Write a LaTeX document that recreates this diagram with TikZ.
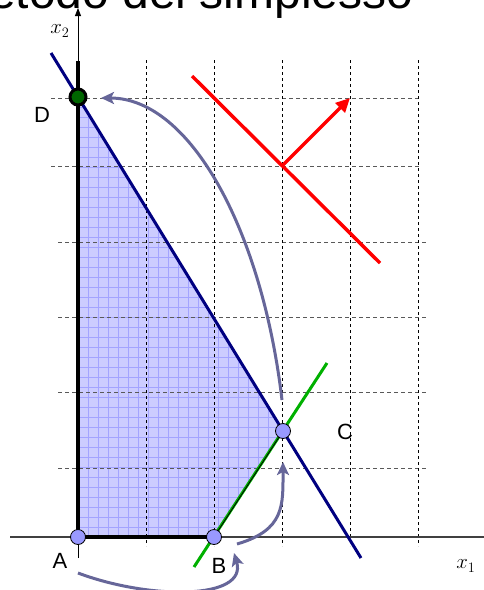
\documentclass[tikz,border=0pt]{standalone}
\usepackage{fontspec}
\setmainfont{Liberation Sans}
\usetikzlibrary{arrows.meta}
\definecolor{regionfill}{HTML}{CCCCFF}
\definecolor{regiongrid}{HTML}{A3A3FF}
\definecolor{vertexfill}{HTML}{9999FF}
\definecolor{optcolor}{HTML}{006600}
\definecolor{pathcolor}{HTML}{666699}
\definecolor{firstbound}{HTML}{000080}
\definecolor{secondbound}{HTML}{00B000}
\tikzset{
  spx axis/.style={draw=black!75,line width=1.2pt},
  spx hguide/.style={black!65,line width=1pt,dash pattern=on 4pt off 3pt},
  spx vguide/.style={black,line width=.9pt,dash pattern=on 3pt off 3pt},
  spx edge/.style={black,line width=3.5pt},
  spx vertex/.style={circle,draw=black,line width=.8pt,fill=vertexfill,minimum size=15pt,inner sep=0pt},
  spx label/.style={font=\fontsize{22}{22}\selectfont},
  spx var/.style={font=\fontsize{22}{22}\selectfont},
  spx move/.style={pathcolor,line width=3pt,-{Stealth[length=13pt,width=12pt,inset=3pt]}},
  spx objective/.style={red,line width=3.5pt}
}

\begin{document}
\begin{tikzpicture}[x=1pt,y=-1pt]
  \path[use as bounding box,clip] (0,0) rectangle (484,590);
  \node[anchor=base east,font=\fontsize{48}{48}\selectfont] (title) at (417,8) {Metodo del simplesso};
  % feasible region
  \begin{scope}
    \clip (78,537)--(214,537)--(283,431)--(78,97)--cycle;
    \fill[regionfill] (70,90) rectangle (290,540);
    \foreach \x in {88,98,...,288}{\draw[regiongrid,line width=.7pt] (\x,90)--(\x,540);}
    \foreach \y in {107,117,...,537}{\draw[regiongrid,line width=.7pt] (70,\y)--(290,\y);}
  \end{scope}
  % guides
  \foreach \y in {98,166}{\draw[spx hguide] (51,\y)--(419,\y);}
  \foreach \y in {242,317,392,468}{\draw[spx hguide] (58,\y)--(427,\y);}
  \foreach \x in {146,214,282,350,418}{\draw[spx vguide] (\x,60)--(\x,546);}
  % axes
  \draw[spx axis] (10,537)--(484,537);
  \draw[black,line width=.9pt,-{Triangle[length=8pt,width=6pt]}] (78,558)--(78,8);
  \node[spx var] (xone) at (466,566) {$x_1$};
  \node[spx var] (xtwo) at (60,31) {$x_2$};
  % constraints and objective
  \draw[firstbound,line width=3pt] (51,53)--(361,558);
  \draw[secondbound,line width=3pt] (194,567)--(327,363);
  \draw[black,line width=.8pt] (214,537)--(283,431);
  \draw[spx edge] (78,61)--(78,537)--(214,537);
  \draw[spx objective] (192,76)--(380,263);
  \coordinate (grad) at (282,166);
  \coordinate (gradtip) at (350,98);
  \draw[spx objective,-{Triangle[length=14pt,width=13pt]}] (grad)--(gradtip);
  % vertices
  \node[spx vertex] (A) at (78,537) {};
  \node[spx vertex] (B) at (214,537) {};
  \node[spx vertex] (C) at (283,431) {};
  \node[spx vertex,fill=optcolor,line width=3pt,minimum size=16pt] (D) at (78,97) {};
  \node[spx label] (Alab) at (60,561) {A};
  \node[spx label] (Blab) at (219,566) {B};
  \node[spx label] (Clab) at (345,432) {C};
  \node[spx label] (Dlab) at (42,115) {D};
  % moves of the method
  \coordinate (ABs) at (78,573);
  \coordinate (ABe) at (234,553);
  \coordinate (BCs) at (237,544);
  \coordinate (BCe) at (283,462);
  \coordinate (CDs) at (282,400);
  \coordinate (CDe) at (101,98);
  \draw[spx move] (ABs) .. controls (150,600) and (248,600) .. (ABe);
  \draw[spx move] (BCs) .. controls (285,530) and (283,505) .. (BCe);
  \draw[spx move] (CDs) .. controls (262,230) and (190,98) .. (CDe);
\end{tikzpicture}
\end{document}
